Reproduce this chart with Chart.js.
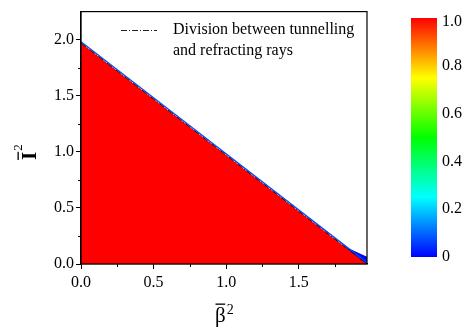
<!DOCTYPE html>
<html>
<head>
<meta charset="utf-8">
<script src="https://cdn.jsdelivr.net/npm/chart.js@4"></script>
<style>
  html, body { margin: 0; padding: 0; background: #fff; }
  #wrap { width: 465px; height: 331px; }
</style>
</head>
<body>
<div id="wrap"><canvas id="chart"></canvas></div>
<script>
// division line between tunnelling and refracting rays
const boundaryX = [0, 1.97];
const boundaryY = [1.97, 0];
// small low-value region at the bottom right
const wedgeX = [1.83, 1.86, 1.97];
const wedgeY = [0.14, 0.125, 0.06];
// colour bar
const barTicks = [0, 0.2, 0.4, 0.6, 0.8, 1.0];
const barLabels = ["0", "0.2", "0.4", "0.6", "0.8", "1.0"];
const barStops = [
  [0, "rgb(0,0,255)"],
  [0.25, "rgb(0,255,255)"],
  [0.5, "rgb(0,255,0)"],
  [0.75, "rgb(255,255,0)"],
  [1, "rgb(255,0,0)"],
];
const legendText = ["Division between tunnelling", "and refracting rays"];
const xTitle = ["β", "2"];
const yTitle = ["I", "2"];

const serif = "'Liberation Serif', 'DejaVu Serif', serif";

const toPoints = (xs, ys) => xs.map((x, i) => ({ x: x, y: ys[i] }));

const extras = {
  id: "extras",
  afterDraw(chart) {
    const ctx = chart.ctx;
    const a = chart.chartArea;
    const sx = chart.scales.x;
    const sy = chart.scales.y;
    ctx.save();
    // frame
    ctx.strokeStyle = "#000";
    ctx.lineWidth = 1.2;
    ctx.strokeRect(a.left, a.top, a.right - a.left, a.bottom - a.top);
    // minor ticks
    ctx.lineWidth = 1;
    ctx.beginPath();
    for (let v = 0.25; v < sx.max; v += 0.5) {
      const px = Math.round(sx.getPixelForValue(v)) + 0.5;
      ctx.moveTo(px, a.bottom);
      ctx.lineTo(px, a.bottom + 3);
    }
    for (let v = 0.25; v < sy.max; v += 0.5) {
      const py = Math.round(sy.getPixelForValue(v)) + 0.5;
      ctx.moveTo(a.left, py);
      ctx.lineTo(a.left - 3, py);
    }
    ctx.stroke();

    // axis titles (bar over the symbol)
    ctx.fillStyle = "#000";
    ctx.textBaseline = "alphabetic";
    ctx.textAlign = "left";
    ctx.font = "21px " + serif;
    ctx.fillText(xTitle[0], 215, 322);
    const bw = ctx.measureText(xTitle[0]).width;
    ctx.fillRect(215.5, 303.5, bw - 1, 1.3);
    ctx.font = "14px " + serif;
    ctx.fillText(xTitle[1], 215 + bw + 1, 314);

    ctx.save();
    ctx.translate(36, 160);
    ctx.rotate(-Math.PI / 2);
    ctx.font = "bold 21px " + serif;
    ctx.fillText(yTitle[0], 0, 0);
    const iw = ctx.measureText(yTitle[0]).width;
    ctx.fillRect(0, -18.5, iw, 1.3);
    ctx.font = "13px " + serif;
    ctx.fillText(yTitle[1], iw + 1, -14);
    ctx.restore();

    // legend
    ctx.strokeStyle = "#222";
    ctx.lineWidth = 1;
    ctx.setLineDash([6, 2, 1, 2]);
    ctx.beginPath();
    ctx.moveTo(121, 30.5);
    ctx.lineTo(157, 30.5);
    ctx.stroke();
    ctx.setLineDash([]);
    ctx.fillStyle = "#000";
    ctx.font = "16px " + serif;
    ctx.textBaseline = "middle";
    ctx.textAlign = "left";
    legendText.forEach((t, i) => ctx.fillText(t, 173, 30 + i * 21));

    // colour bar
    const top = 18, bottom = 257, left = 411, w = 26;
    const g = ctx.createLinearGradient(0, bottom, 0, top);
    barStops.forEach(s => g.addColorStop(s[0], s[1]));
    ctx.fillStyle = g;
    ctx.fillRect(left, top, w, bottom - top);
    ctx.fillStyle = "#000";
    ctx.font = "16px " + serif;
    barTicks.forEach((v, i) => {
      const y = bottom - v * (bottom - top);
      ctx.fillText(barLabels[i], left + w + 5, Math.max(y, top + 4));
    });
    ctx.restore();
  },
};

new Chart(document.getElementById("chart"), {
  type: "scatter",
  data: {
    datasets: [
      {
        data: toPoints(wedgeX, wedgeY),
        showLine: true,
        fill: "origin",
        backgroundColor: "rgb(0,0,255)",
        borderColor: "rgb(0,0,230)",
        borderWidth: 1,
        pointRadius: 0,
        order: 4,
      },
      {
        data: toPoints(boundaryX, boundaryY),
        showLine: true,
        fill: "origin",
        backgroundColor: "rgb(255,0,0)",
        borderWidth: 0,
        pointRadius: 0,
        order: 3,
      },
      {
        data: toPoints(boundaryX, boundaryY.map(v => v + 0.012)),
        showLine: true,
        borderColor: "rgb(0,70,255)",
        borderWidth: 1.3,
        pointRadius: 0,
        order: 2,
      },
      {
        data: toPoints(boundaryX, boundaryY),
        showLine: true,
        borderColor: "#111",
        borderWidth: 1,
        borderDash: [6, 2, 1, 2],
        pointRadius: 0,
        order: 1,
      },
    ],
  },
  options: {
    responsive: true,
    maintainAspectRatio: false,
    animation: false,
    layout: { padding: { top: 10, right: 98, left: 0, bottom: 0 } },
    plugins: { legend: { display: false }, tooltip: { enabled: false } },
    scales: {
      x: {
        type: "linear",
        min: 0,
        max: 1.97,
        afterFit: (s) => { s.height = 67; },
        border: { color: "#000", width: 1.2 },
        grid: { drawOnChartArea: false, tickLength: 5, tickColor: "#000" },
        ticks: {
          stepSize: 0.5,
          includeBounds: false,
          color: "#000",
          padding: 4,
          font: { family: serif, size: 16 },
          callback: (v) => v.toFixed(1),
        },
      },
      y: {
        type: "linear",
        min: 0,
        max: 2.25,
        afterFit: (s) => { s.width = 81; },
        border: { color: "#000", width: 1.2 },
        grid: { drawOnChartArea: false, tickLength: 5, tickColor: "#000" },
        ticks: {
          stepSize: 0.5,
          includeBounds: false,
          color: "#000",
          padding: 2,
          font: { family: serif, size: 16 },
          callback: (v) => v.toFixed(1),
        },
      },
    },
  },
  plugins: [extras],
});
</script>
</body>
</html>
